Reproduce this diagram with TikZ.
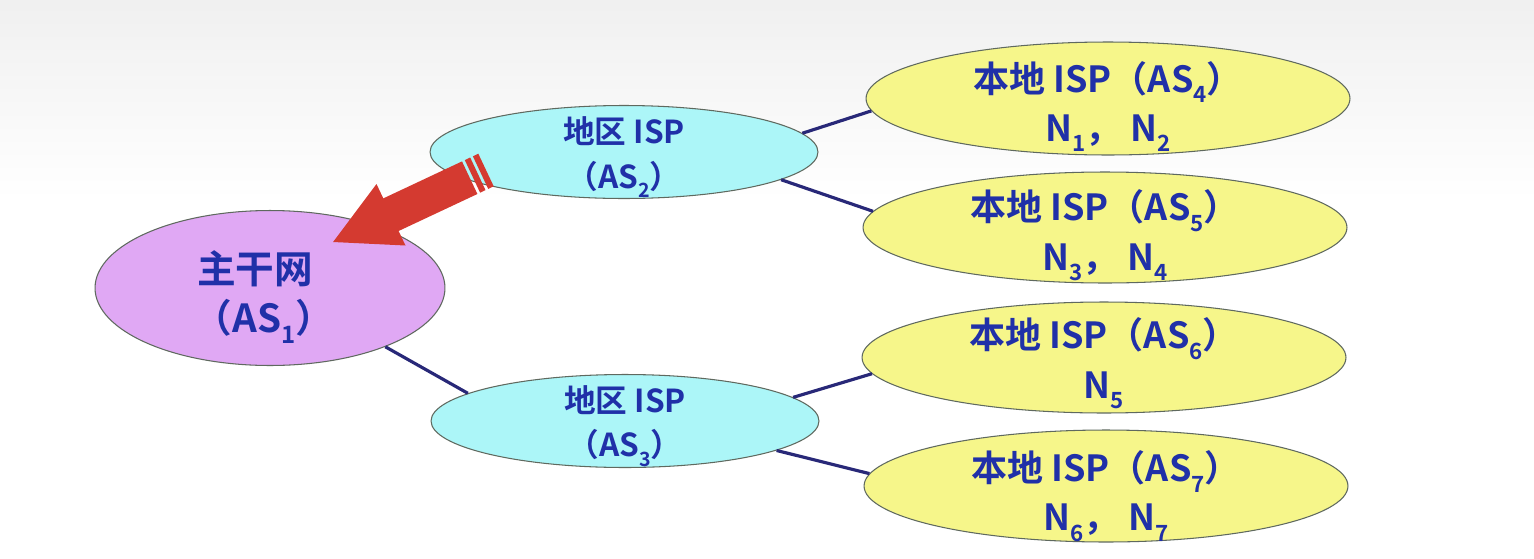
\documentclass[tikz,border=0pt]{standalone}
\usepackage{fontspec}
\setmainfont{Noto Sans CJK SC Bold}
\usetikzlibrary{shapes.geometric}
\definecolor{txt}{RGB}{32,48,168}
\definecolor{purp}{RGB}{224,168,244}
\definecolor{cyn}{RGB}{172,246,248}
\definecolor{ylw}{RGB}{246,246,138}
\definecolor{lnk}{RGB}{40,40,120}
\definecolor{arr}{RGB}{212,58,48}
\definecolor{edge}{RGB}{95,105,95}
\newcommand\dn[1]{\raisebox{-0.55ex}{\scalebox{0.62}{#1}}}
\begin{document}
\begin{tikzpicture}[x=0.02cm,y={(0cm,-0.02cm)},
  base/.style={ellipse,draw=edge,line width=0.6pt,inner sep=0pt},
  bb/.style={base,fill=purp,minimum width=7cm,minimum height=3.1cm},
  rg/.style={base,fill=cyn,minimum width=7.76cm,minimum height=1.86cm},
  lc/.style={base,fill=ylw,minimum width=9.68cm},
  lbl/.style={inner sep=0pt,align=center,text=txt},
  bbt/.style={lbl,font=\fontsize{22}{28}\selectfont},
  rgt/.style={lbl,font=\fontsize{18}{25.5}\selectfont},
  lct/.style={lbl,font=\fontsize{20.5}{28}\selectfont},
  link/.style={draw=lnk,line width=1.8pt},
  redarrow/.style={fill=arr}]
\useasboundingbox (0,0) rectangle (1534,558);
\fill[top color=gray!12,bottom color=white] (0,0) rectangle (1534,200);
\fill[white] (0,200) rectangle (1534,558);

\node[bb] (as1) at (270,288) {};
\node[rg] (as2) at (624,152) {};
\node[rg] (as3) at (625,421) {};
\node[lc,minimum height=2.26cm] (as4) at (1108,98.5) {};
\node[lc,minimum height=2.22cm] (as5) at (1105,227.5) {};
\node[lc,minimum height=2.22cm] (as6) at (1104,357.5) {};
\node[lc,minimum height=2.24cm] (as7) at (1106,486) {};

\node[bbt] (t1) at ([shift={(0,9)}]as1.center) {主干网\hspace*{17pt}\\（AS\dn{1}）\hspace*{7pt}};
\node[rgt] (t2) at ([shift={(0,5)}]as2.center) {地区 ISP\\（AS\dn{2}）};
\node[rgt] (t3) at ([shift={(0,5)}]as3.center) {地区 ISP\\（AS\dn{3}）};
\node[lct] (t4) at ([shift={(0,8)}]as4.center) {本地 ISP（AS\dn{4}）\\N\dn{1}， N\dn{2}};
\node[lct] (t5) at ([shift={(0,8)}]as5.center) {本地 ISP（AS\dn{5}）\\N\dn{3}， N\dn{4}};
\node[lct] (t6) at ([shift={(0,6)}]as6.center) {本地 ISP（AS\dn{6}）\\N\dn{5}};
\node[lct] (t7) at ([shift={(0,10)}]as7.center) {本地 ISP（AS\dn{7}）\\N\dn{6}， N\dn{7}};

\draw[link] (as2.6) -- (as4.183);
\draw[link] (as2.350) -- (as5.176);
\draw[link] (as1.333) -- (as3.170);
\draw[link] (as3.8) -- (as6.184);
\draw[link] (as3.349) -- (as7.177);

% striped block arrow from AS2 towards AS1
\fill[redarrow] (462.0,161.4) -- (383.3,198.4) -- (376.5,184.0) -- (333.1,242.0)
  -- (405.5,245.5) -- (398.6,231.0) -- (477.4,194.0) -- cycle;
\fill[redarrow] (470.2,157.5) -- (464.8,160.1) -- (480.1,192.7) -- (485.5,190.1) -- cycle;
\fill[redarrow] (478.3,153.7) -- (472.9,156.3) -- (488.2,188.9) -- (493.7,186.3) -- cycle;
\end{tikzpicture}
\end{document}
